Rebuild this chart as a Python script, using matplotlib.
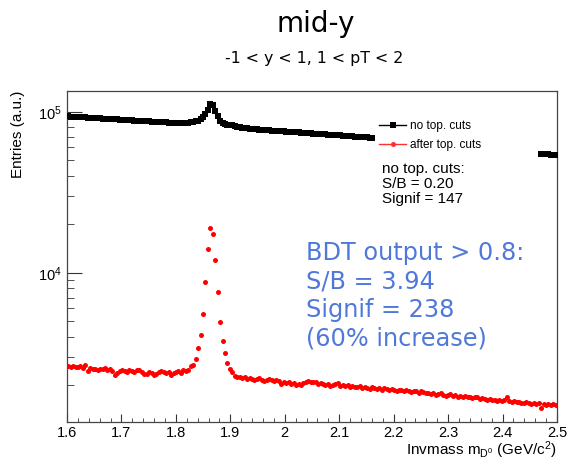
import numpy as np
import matplotlib
matplotlib.use('Agg')
import matplotlib.pyplot as plt
from matplotlib.lines import Line2D

plt.rcParams['font.family'] = 'Liberation Sans'
plt.rcParams['mathtext.default'] = 'regular'

W, H = 567, 461          # output size in pixels (dpi 100)

# ---------------------------------------------------------------------------
# Data: D0 invariant-mass histogram, 200 bins from 1.6 to 2.5 GeV/c^2
# ---------------------------------------------------------------------------
MASS_LO, MASS_HI, N_BINS = 1.6, 2.5, 200

# entries per bin after topological (BDT) cuts
after_cuts = [
    2630, 2610, 2640, 2600, 2580, 2620, 2570, 2660, 2450, 2560,
    2520, 2540, 2500, 2530, 2510, 2550, 2490, 2520, 2460, 2330,
    2380, 2440, 2470, 2460, 2420, 2490, 2450, 2410, 2480, 2500,
    2430, 2360, 2350, 2400, 2380, 2330, 2360, 2420, 2440, 2400,
    2380, 2430, 2300, 2380, 2420, 2460, 2390, 2470, 2450, 2480,
    2646, 2660, 2911, 3404, 4121, 5520, 8755, 13970, 18880, 17320,
    11990, 7555, 4922, 3785, 3158, 2737, 2511, 2417, 2280, 2260,
    2250, 2230, 2260, 2200, 2210, 2180, 2150, 2190, 2230, 2170,
    2110, 2160, 2180, 2140, 2120, 2150, 2110, 2050, 2090, 2060,
    2080, 2040, 2070, 2020, 2050, 2020, 2060, 2090, 2110, 2080,
    2080, 2100, 2050, 2070, 2030, 2010, 2040, 1990, 2000, 2030,
    2060, 1990, 2020, 1970, 2000, 1950, 1980, 1940, 1960, 1990,
    1930, 1950, 1920, 1900, 1940, 1910, 1890, 1930, 1880, 1910,
    1890, 1860, 1900, 1870, 1850, 1880, 1860, 1830, 1870, 1840,
    1820, 1850, 1830, 1800, 1840, 1810, 1780, 1800, 1760, 1780,
    1740, 1760, 1780, 1740, 1720, 1750, 1760, 1710, 1730, 1700,
    1720, 1690, 1710, 1680, 1700, 1670, 1690, 1680, 1650, 1670,
    1640, 1630, 1650, 1610, 1630, 1600, 1620, 1590, 1610, 1690,
    1600, 1580, 1590, 1570, 1580, 1560, 1550, 1570, 1560, 1540,
    1560, 1540, 1550, 1450, 1530, 1510, 1530, 1500, 1520, 1510,
]

# entries per bin without cuts (bins hidden behind the legend box are NaN)
no_cuts = [
    93500, 93300, 93100, 92900, 92700, 92500, 92300, 92100, 91900, 91700,
    91500, 91300, 91100, 90900, 90700, 90500, 90300, 90100, 89900, 89700,
    89500, 89300, 89200, 89000, 88800, 88600, 88400, 88200, 88000, 87800,
    87700, 87500, 87300, 87100, 86900, 86700, 86500, 86400, 86200, 86000,
    85800, 85600, 85500, 85300, 85100, 85000, 84900, 84900, 85000, 85400,
    85800, 86300, 87000, 88000, 89500, 92500, 97000, 103000, 111600, 109500,
    101500, 94000, 88000, 85000, 83500, 82800, 82500, 82200, 81500, 80800,
    80200, 79600, 79100, 78700, 78400, 78100, 77900, 77600, 77400, 77200,
    77000, 76800, 76600, 76400, 76200, 76000, 75800, 75600, 75400, 75200,
    75000, 74800, 74600, 74400, 74300, 74100, 73900, 73700, 73500, 73300,
    73100, 72900, 72800, 72600, 72400, 72200, 72000, 71900, 71700, 71500,
    71300, 71200, 71000, 70800, 70600, 70500, 70300, 70100, 70000, 69800,
    69600, 69500, 69300, 69100, 69000,
] + [np.nan] * 68 + [
    54800, 54600, 54500, 54300, 54200, 54000, 53900,
]

XTICKS = [1.6, 1.7, 1.8, 1.9, 2.0, 2.1, 2.2, 2.3, 2.4, 2.5]
XTICK_LABELS = ['1.6', '1.7', '1.8', '1.9', '2', '2.1', '2.2', '2.3', '2.4', '2.5']

BDT_LINES = ['BDT output > 0.8:', 'S/B = 3.94', 'Signif = 238', '(60% increase)']
NOCUT_LINES = ['no top. cuts:', 'S/B = 0.20', 'Signif = 147']

BLUE = '#5078DA'

edges = np.linspace(MASS_LO, MASS_HI, N_BINS + 1)
centers = 0.5 * (edges[:-1] + edges[1:])


def px(x, y):
    """pixel position -> figure fraction"""
    return x / W, 1 - y / H


fig = plt.figure(figsize=(W / 100, H / 100), dpi=100)
ax = fig.add_axes([67 / W, 1 - 422 / H, 490 / W, 331 / H])

ax.plot(centers, no_cuts, 's', color='black', ms=4.2, mew=0, zorder=3)
ax.plot(centers, after_cuts, 'o', color='red', ms=3.6, mew=0, zorder=3)

ax.set_yscale('log')
ax.set_xlim(MASS_LO, MASS_HI)
ax.set_ylim(1182, 1.345e5)

ax.set_xticks(XTICKS)
ax.set_xticklabels(XTICK_LABELS)
ax.set_xticks(np.arange(1.6, 2.501, 0.02), minor=True)

ax.tick_params(which='both', direction='in', top=False, right=False,
               labelsize=10.5, color='#333333')
ax.tick_params(axis='x', which='major', length=6, pad=2.6)
ax.tick_params(axis='x', which='minor', length=2.6)
ax.tick_params(axis='y', which='major', length=10.5, pad=3.6)
ax.tick_params(axis='y', which='minor', length=5.2)
ax.yaxis.set_minor_formatter(plt.NullFormatter())

for sp in ax.spines.values():
    sp.set_color('#444444')
    sp.set_linewidth(0.9)

ax.set_ylabel('Entries (a.u.)', fontsize=11, loc='top')
ax.yaxis.set_label_coords(-0.086, 1.0)

fig.text(*px(557, 455), r'Invmass m$_{D^0}$ (GeV/c$^2$)', fontsize=11,
         ha='right', va='baseline')

# titles
fig.text(*px(316, 32), 'mid-y', family='DejaVu Sans', fontsize=20,
         ha='center', va='baseline')
fig.text(*px(314.5, 63.3), '-1 < y < 1, 1 < pT < 2', family='DejaVu Sans',
         fontsize=11.4, ha='center', va='baseline')

# legend
handles = [
    Line2D([], [], color='black', lw=1, marker='s', ms=3.8, mew=0),
    Line2D([], [], color='#ff3030', lw=1, marker='o', ms=3.6, mew=0),
]
fig.legend(handles, ['no top. cuts', 'after top. cuts'], loc='upper left',
           bbox_to_anchor=px(379, 120), frameon=False, fontsize=8.5,
           borderpad=0, borderaxespad=0, handlelength=2.3,
           handletextpad=0.35, labelspacing=0.6)

# annotations
for i, line in enumerate(NOCUT_LINES):
    fig.text(*px(381.7, 173 + 15 * i), line, fontsize=11, va='baseline')

for i, line in enumerate(BDT_LINES):
    fig.text(*px(306, 260 + 28.4 * i), line, family='DejaVu Sans',
             fontsize=17.3, color=BLUE, va='baseline')

fig.savefig('out.png', dpi=100)
